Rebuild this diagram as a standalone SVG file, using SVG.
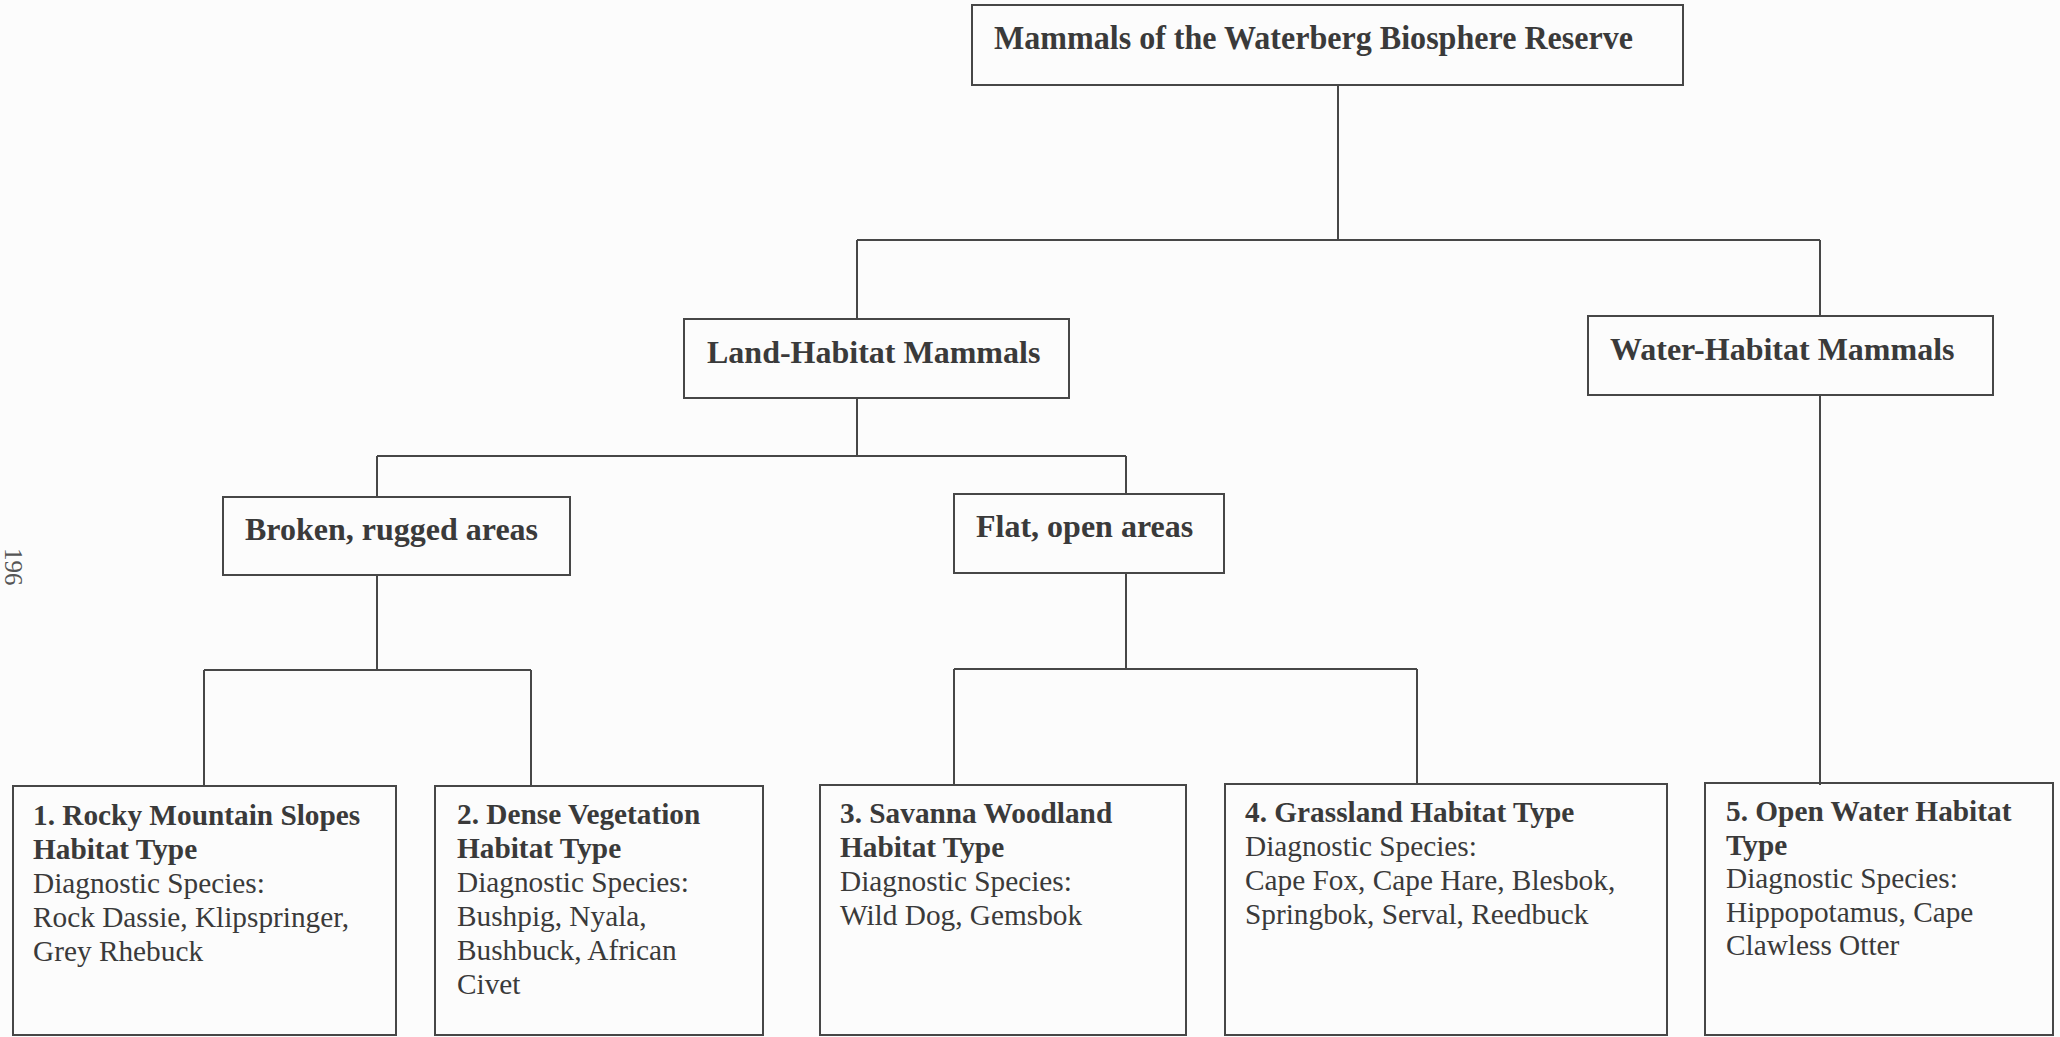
<svg xmlns="http://www.w3.org/2000/svg" width="2060" height="1037" viewBox="0 0 2060 1037">
<style>
.box{fill:none;stroke:#474747;stroke-width:2}
.con{fill:none;stroke:#474747;stroke-width:2}
.h{font-family:"Liberation Serif","Times New Roman",serif;font-weight:bold;font-size:32px;fill:#3a3a3a}
.b{font-family:"Liberation Serif","Times New Roman",serif;font-weight:bold;font-size:29.3px;fill:#3a3a3a}
.r{font-family:"Liberation Serif","Times New Roman",serif;font-size:29.3px;fill:#3a3a3a}
</style>
<rect width="2060" height="1037" fill="#fcfcfc"/>
<g id="connectors">
<path class="con" d="M1338 85V240M857 240H1820M857 240V319M1820 240V316"/>
<path class="con" d="M857 398V456M377 456H1126M377 456V497M1126 456V494"/>
<path class="con" d="M377 575V670M204 670H531M204 670V785M531 670V785"/>
<path class="con" d="M1126 573V669M954 669H1417M954 669V785M1417 669V785"/>
<path class="con" d="M1820 395V785"/>
</g>
<g id="title">
<rect class="box" x="972" y="5" width="711" height="80"/>
<text class="h" x="994" y="49" font-size="33" style="font-size:33px" textLength="639" lengthAdjust="spacingAndGlyphs">Mammals of the Waterberg Biosphere Reserve</text>
</g>
<g id="land">
<rect class="box" x="684" y="319" width="385" height="79"/>
<text class="h" x="707" y="363">Land-Habitat Mammals</text>
</g>
<g id="water">
<rect class="box" x="1588" y="316" width="405" height="79"/>
<text class="h" x="1610" y="360">Water-Habitat Mammals</text>
</g>
<g id="broken">
<rect class="box" x="223" y="497" width="347" height="78"/>
<text class="h" x="245" y="540">Broken, rugged areas</text>
</g>
<g id="flat">
<rect class="box" x="954" y="494" width="270" height="79"/>
<text class="h" x="976" y="537">Flat, open areas</text>
</g>
<g id="habitat1">
<rect class="box" x="13" y="786" width="383" height="249"/>
<text class="b" x="33" y="825">1. Rocky Mountain Slopes</text>
<text class="b" x="33" y="859">Habitat Type</text>
<text class="r" x="33" y="893">Diagnostic Species:</text>
<text class="r" x="33" y="927">Rock Dassie, Klipspringer,</text>
<text class="r" x="33" y="961">Grey Rhebuck</text>
</g>
<g id="habitat2">
<rect class="box" x="435" y="786" width="328" height="249"/>
<text class="b" x="457" y="824">2. Dense Vegetation</text>
<text class="b" x="457" y="858">Habitat Type</text>
<text class="r" x="457" y="892">Diagnostic Species:</text>
<text class="r" x="457" y="926">Bushpig, Nyala,</text>
<text class="r" x="457" y="960">Bushbuck, African</text>
<text class="r" x="457" y="994">Civet</text>
</g>
<g id="habitat3">
<rect class="box" x="820" y="785" width="366" height="250"/>
<text class="b" x="840" y="823">3. Savanna Woodland</text>
<text class="b" x="840" y="857">Habitat Type</text>
<text class="r" x="840" y="891">Diagnostic Species:</text>
<text class="r" x="840" y="925">Wild Dog, Gemsbok</text>
</g>
<g id="habitat4">
<rect class="box" x="1225" y="784" width="442" height="251"/>
<text class="b" x="1245" y="822">4. Grassland Habitat Type</text>
<text class="r" x="1245" y="856">Diagnostic Species:</text>
<text class="r" x="1245" y="890">Cape Fox, Cape Hare, Blesbok,</text>
<text class="r" x="1245" y="924">Springbok, Serval, Reedbuck</text>
</g>
<g id="habitat5">
<rect class="box" x="1705" y="783" width="348" height="252"/>
<text class="b" x="1726" y="821">5. Open Water Habitat</text>
<text class="b" x="1726" y="855">Type</text>
<text class="r" x="1726" y="888">Diagnostic Species:</text>
<text class="r" x="1726" y="922">Hippopotamus, Cape</text>
<text class="r" x="1726" y="955">Clawless Otter</text>
</g>
<text transform="translate(5,548) rotate(90)" font-family="Liberation Serif, serif" font-size="25" fill="#555">196</text>
</svg>
